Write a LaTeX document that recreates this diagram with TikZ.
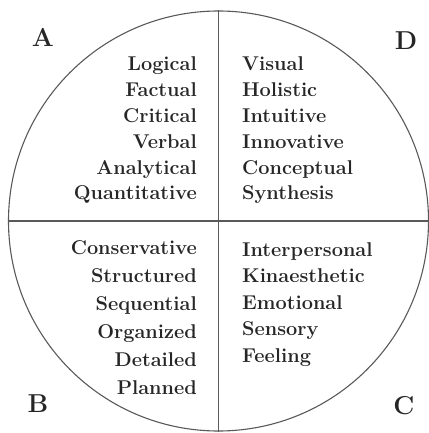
\documentclass[tikz,border=0pt]{standalone}
\usepackage{fontspec}
\begin{document}
\begin{tikzpicture}[x=1bp, y=-1bp]
    % Styles
    \tikzset{
        wheel/.style = {circle, draw=black!65, line width=1.1bp, minimum size=420bp, inner sep=0pt},
        divider/.style = {draw=black!65, line width=1.1bp},
        trait/.style = {inner sep=0pt, text=black!85, font=\fontsize{20}{24}\selectfont\bfseries},
        quadlabel/.style = {inner sep=0pt, text=black!85, anchor=base, font=\fontsize{26}{30}\selectfont\bfseries}
    }
    \useasboundingbox (0,0) rectangle (428,433);

    % === Circle and dividers ===
    \node [wheel] (wheel) at (218.5,221) {};
    \draw [divider] (wheel.north) -- (wheel.south);
    \draw [divider] (wheel.west) -- (wheel.east);

    % === Quadrant letters ===
    \node [quadlabel] (labA) at (43,47) {A};
    \node [quadlabel] (labD) at (406,50) {D};
    \node [quadlabel] (labB) at (38,412) {B};
    \node [quadlabel] (labC) at (404,414) {C};

    % === Traits: A (upper left) ===
    \foreach \w [count=\i] in {Logical, Factual, Critical, Verbal, Analytical, Quantitative}
        \node [trait, anchor=base east] (tA\i) at (197,{71+25.8*(\i-1)}) {\w};

    % === Traits: D (upper right) ===
    \foreach \w [count=\i] in {Visual, Holistic, Intuitive, Innovative, Conceptual, Synthesis}
        \node [trait, anchor=base west] (tD\i) at (242,{71+25.8*(\i-1)}) {\w};

    % === Traits: B (lower left) ===
    \foreach \w [count=\i] in {Conservative, Structured, Sequential, Organized, Detailed, Planned}
        \node [trait, anchor=base east] (tB\i) at (197,{254+28*(\i-1)}) {\w};

    % === Traits: C (lower right) ===
    \foreach \w [count=\i] in {Interpersonal, Kinaesthetic, Emotional, Sensory, Feeling}
        \node [trait, anchor=base west] (tC\i) at (242,{256+26.5*(\i-1)}) {\w};
\end{tikzpicture}
\end{document}
